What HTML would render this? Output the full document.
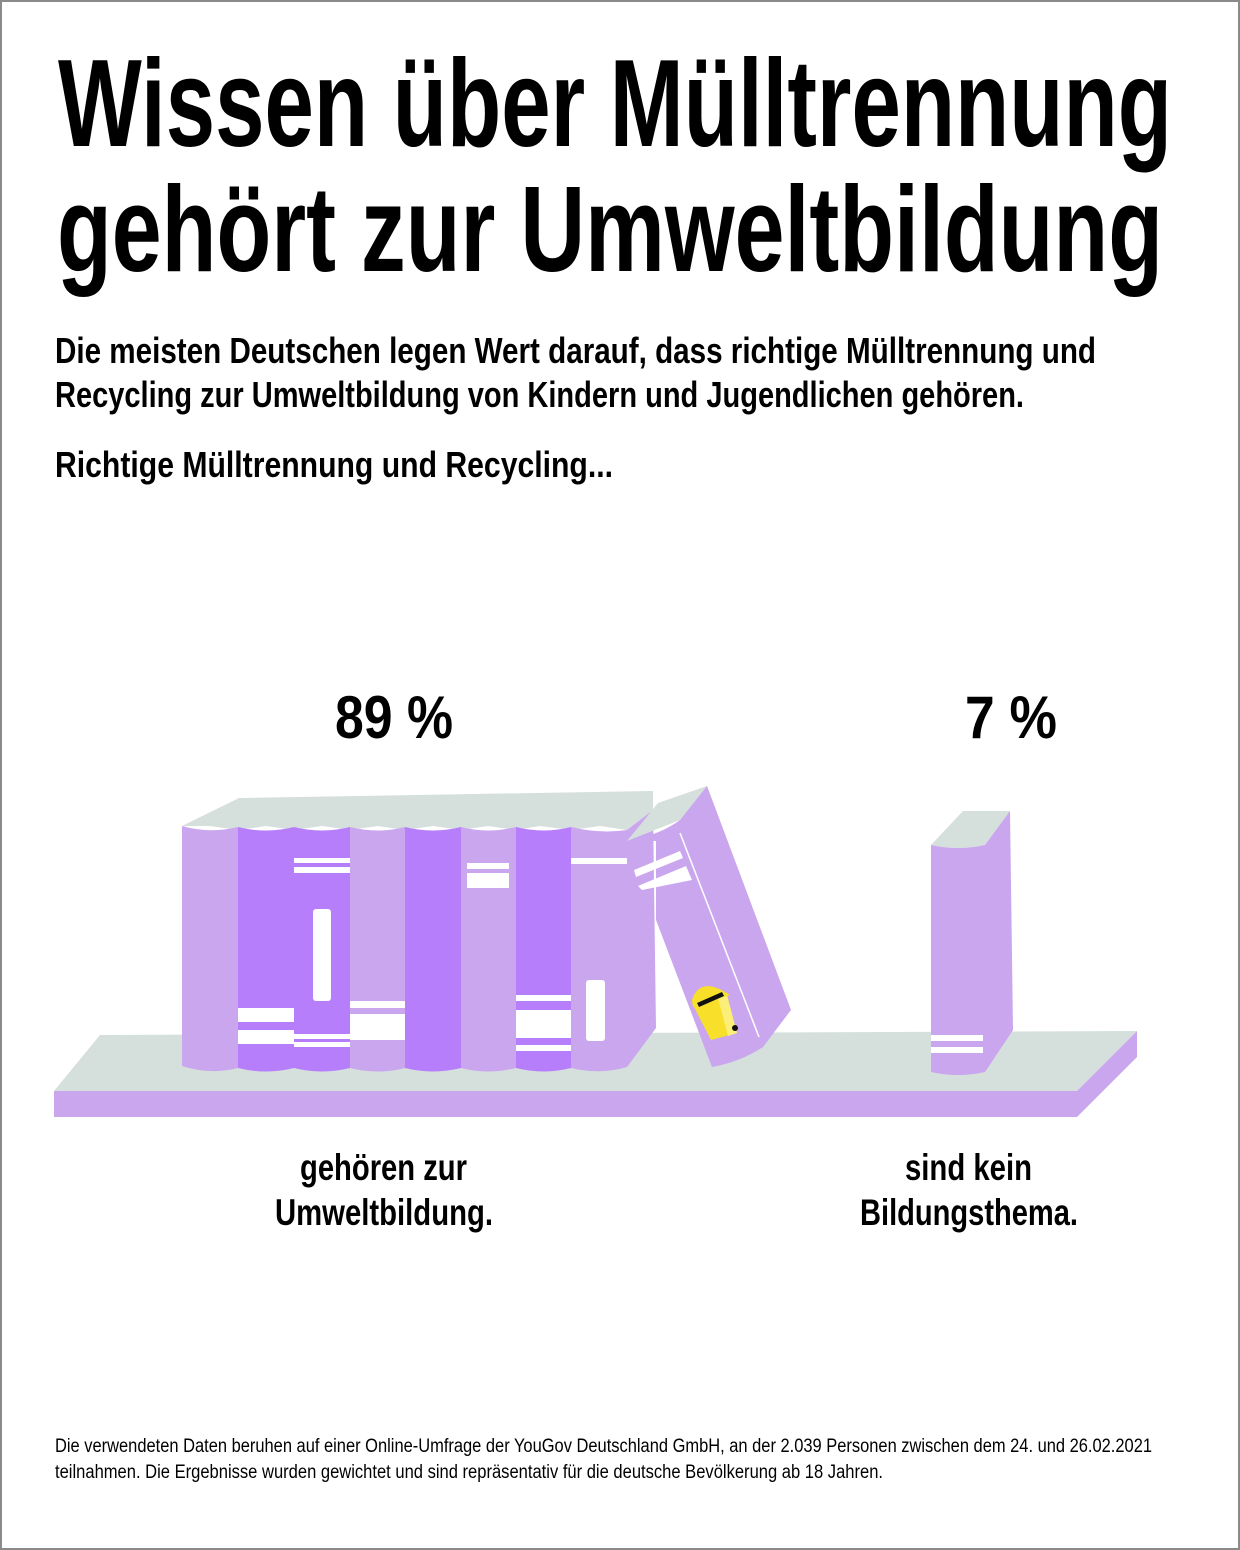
<!DOCTYPE html>
<html><head><meta charset="utf-8"><style>
html,body{margin:0;padding:0;background:#fff}
svg{display:block}
text{font-family:"Liberation Sans",sans-serif;fill:#000}
</style></head><body>
<svg width="1240" height="1550" viewBox="0 0 1240 1550" xmlns="http://www.w3.org/2000/svg">
<rect x="1" y="1" width="1238" height="1548" fill="#fff" stroke="#8a8a8a" stroke-width="2"/>
<g font-weight="bold">
<text x="58" y="146" font-size="124" textLength="1114" lengthAdjust="spacingAndGlyphs">Wissen über Mülltrennung</text>
<text x="57" y="271" font-size="122" textLength="1106" lengthAdjust="spacingAndGlyphs">gehört zur Umweltbildung</text>
<text x="55" y="363" font-size="36" textLength="1041" lengthAdjust="spacingAndGlyphs">Die meisten Deutschen legen Wert darauf, dass richtige Mülltrennung und</text>
<text x="55" y="407" font-size="36" textLength="969" lengthAdjust="spacingAndGlyphs">Recycling zur Umweltbildung von Kindern und Jugendlichen gehören.</text>
<text x="55" y="477" font-size="36" textLength="558" lengthAdjust="spacingAndGlyphs">Richtige Mülltrennung und Recycling...</text>
<text x="335" y="738" font-size="60" textLength="118" lengthAdjust="spacingAndGlyphs">89 %</text>
<text x="965" y="738" font-size="60" textLength="92" lengthAdjust="spacingAndGlyphs">7 %</text>
<text x="300" y="1180" font-size="37" textLength="167" lengthAdjust="spacingAndGlyphs">gehören zur</text>
<text x="275" y="1225" font-size="37" textLength="218" lengthAdjust="spacingAndGlyphs">Umweltbildung.</text>
<text x="905" y="1180" font-size="37" textLength="127" lengthAdjust="spacingAndGlyphs">sind kein</text>
<text x="860" y="1225" font-size="37" textLength="218" lengthAdjust="spacingAndGlyphs">Bildungsthema.</text>
</g>
<text x="55" y="1452" font-size="19" textLength="1097" lengthAdjust="spacingAndGlyphs">Die verwendeten Daten beruhen auf einer Online-Umfrage der YouGov Deutschland GmbH, an der 2.039 Personen zwischen dem 24. und 26.02.2021</text>
<text x="55" y="1478" font-size="19" textLength="828" lengthAdjust="spacingAndGlyphs">teilnahmen. Die Ergebnisse wurden gewichtet und sind repräsentativ für die deutsche Bevölkerung ab 18 Jahren.</text>

<polygon points="54,1091 100,1035 1137,1031 1077,1091" fill="#d5dfdc"/>
<rect x="54" y="1091" width="1023" height="26" fill="#c9a6ee"/>
<polygon points="1077,1091 1137,1031 1137,1057 1077,1117" fill="#c9a6ee"/>

<polygon points="182,826 239,798 653,791 653,810 627,830 600,826 571,830 540,826 516,830 488,826 461,830 433,826 405,830 378,826 350,830 322,826 294,830 266,826 238,830 210,826" fill="#d5dfdc"/>
<path d="M182,826 Q210,834 238,827 L238,1068 Q210,1075 182,1066Z" fill="#c9a6ee"/>
<path d="M238,827 Q266,834 294,827 L294,1068 Q266,1075 238,1068Z" fill="#b77efb"/>
<path d="M294,827 Q322,834 350,827 L350,1068 Q322,1075 294,1068Z" fill="#b77efb"/>
<path d="M350,827 Q378,834 405,827 L405,1068 Q378,1075 350,1068Z" fill="#c9a6ee"/>
<path d="M405,827 Q433,834 461,827 L461,1068 Q433,1075 405,1068Z" fill="#b77efb"/>
<path d="M461,827 Q488,834 516,827 L516,1068 Q488,1075 461,1068Z" fill="#c9a6ee"/>
<path d="M516,827 Q544,834 571,827 L571,1068 Q544,1075 516,1068Z" fill="#b77efb"/>
<path d="M571,827 Q600,834 627,830 L653,810 L656,1028 L627,1067 Q600,1075 571,1068Z" fill="#c9a6ee"/>
<g fill="#fff">
<rect x="238" y="1008" width="56" height="14"/><rect x="238" y="1030" width="56" height="14"/>
<rect x="294" y="858" width="56" height="5"/><rect x="294" y="867" width="56" height="6"/>
<rect x="313" y="909" width="18" height="92" rx="3"/>
<rect x="294" y="1034" width="56" height="5"/><rect x="294" y="1042" width="56" height="5"/>
<rect x="350" y="1001" width="55" height="7"/><rect x="350" y="1014" width="55" height="26"/>
<rect x="467" y="863" width="42" height="6"/><rect x="467" y="873" width="42" height="15"/>
<rect x="516" y="995" width="55" height="6"/><rect x="516" y="1010" width="55" height="28"/><rect x="516" y="1045" width="55" height="6"/>
<rect x="571" y="858" width="56" height="6"/>
<rect x="586" y="980" width="19" height="61" rx="3"/>
</g>
<polygon points="627,841 658,803 707,786 680,820" fill="#d5dfdc"/>
<path d="M627,841 Q660,835 680,820 L707,786 L791,1010 L763,1047 Q740,1062 712,1067 L656,920 L656,841Z" fill="#c9a6ee"/>
<line x1="680" y1="833" x2="759" y2="1037" stroke="#fff" stroke-width="1.5"/>
<polygon points="634,870 680,851 683,858 636,877" fill="#fff"/>
<polygon points="638,886 686,866 692,880 642,890" fill="#fff"/>
<polygon points="692,1003 727,995 737,1033 711,1040" fill="#f8e02a"/>
<polygon points="718,998 727,995 737,1033 728,1036" fill="#fbef7a"/>
<path d="M692,1000 Q700,975 730,995 L693,1007Z" fill="#f8e02a"/>
<polygon points="697,1003 722,992 724,996 699,1007" fill="#111"/>
<circle cx="735" cy="1028" r="3" fill="#111"/>

<path d="M931,845 L963,811 L1010,811 L985,845 Q958,851 931,845Z" fill="#d5dfdc"/>
<path d="M931,845 Q958,851 985,845 L1010,811 L1013,1030 L985,1072 Q958,1078 931,1072Z" fill="#c9a6ee"/>
<rect x="931" y="1035" width="52" height="6" fill="#fff"/>
<rect x="931" y="1047" width="52" height="6" fill="#fff"/>
</svg>
</body></html>
